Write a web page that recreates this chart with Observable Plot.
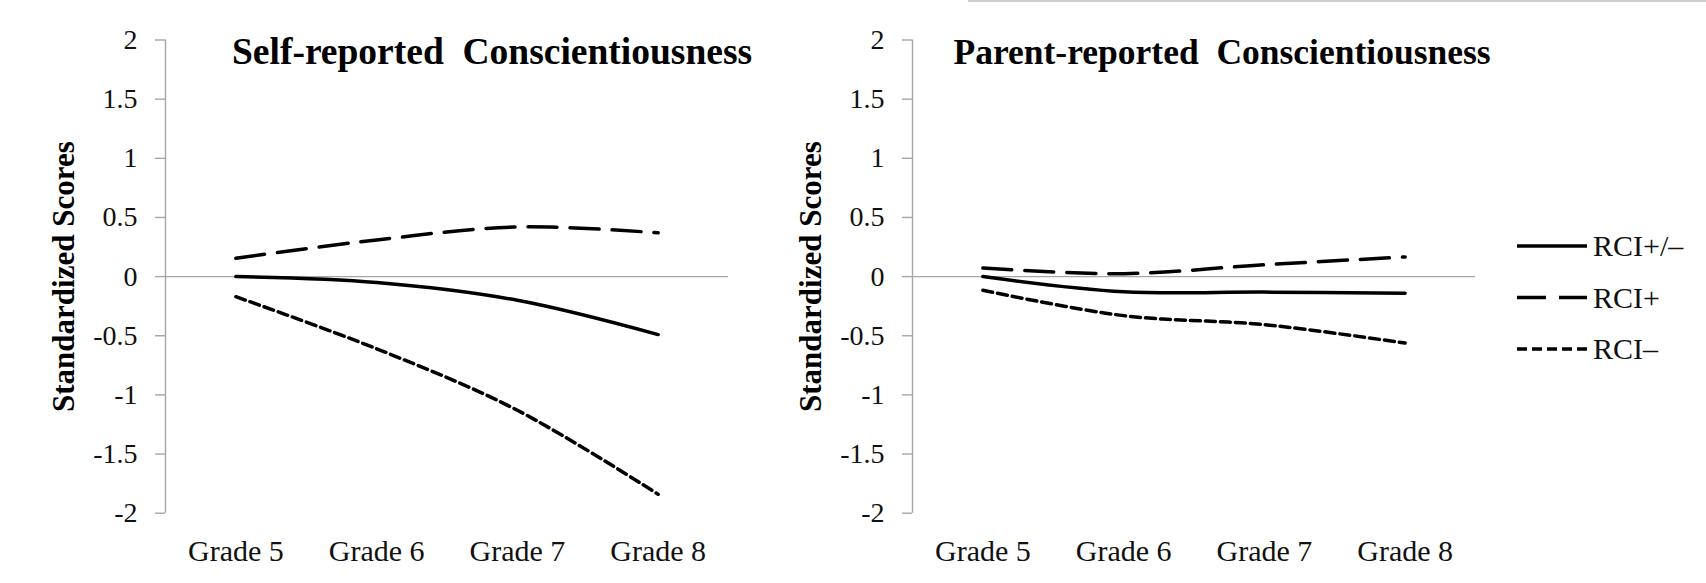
<!DOCTYPE html>
<html><head><meta charset="utf-8">
<script src="https://cdn.jsdelivr.net/npm/d3@7"></script>
<script src="https://cdn.jsdelivr.net/npm/@observablehq/plot@0.6"></script>
<style>
html,body{margin:0;padding:0;background:#fff;}
#wrap{position:relative;width:1706px;height:583px;overflow:hidden;font-family:"Liberation Serif","Times New Roman",serif;background:#fff;}
#wrap > svg, #wrap > div{position:absolute;top:0;}
#wrap svg, #wrap svg text{font-family:"Liberation Serif","Times New Roman",serif !important;}
#topline{left:968px;top:7px;width:738px;height:0;border-top:2px solid #cfcfcf;}
</style></head><body><div id="wrap"><div id="topline"></div></div>
<script>
// ---- data ----
const grades = ["Grade 5", "Grade 6", "Grade 7", "Grade 8"];
const seriesNames = ["RCI+/\u2013", "RCI+", "RCI\u2013"];
const yTicks = [2, 1.5, 1, 0.5, 0, -0.5, -1, -1.5, -2];
const panelTitles = ["Self-reported\u00a0\u00a0Conscientiousness", "Parent-reported\u00a0\u00a0Conscientiousness"];
const yLabel = "Standardized Scores";

const selfPM    = [0, -0.05, -0.20, -0.49];
const selfPlus  = [0.155, 0.31, 0.42, 0.37];
const selfMinus = [-0.17, -0.61, -1.13, -1.84];

const parentPM    = [0, -0.128, -0.131, -0.14];
const parentPlus  = [0.072, 0.025, 0.10, 0.166];
const parentMinus = [-0.116, -0.33, -0.406, -0.562];

// ---- styles ----
const dashes = [null, "29,13", "10,5"];
const FONT = '"Liberation Serif","Times New Roman",serif';

function rows(values) { return values.map((v, i) => ({i, v, grade: grades[i]})); }

function panel(title, series, titleDx, titleSize) {
  return Plot.plot({
    width: 760, height: 583,
    marginLeft: 165, marginRight: 32, marginTop: 39.5, marginBottom: 70.3,
    style: {fontFamily: FONT, background: "transparent", overflow: "visible"},
    x: {domain: [-0.5, grades.length - 0.5], axis: null},
    y: {domain: [-2, 2], axis: null},
    marks: [
      Plot.ruleY([0], {stroke: "#a6a6a6", strokeWidth: 1.4}),
      Plot.ruleX([-0.5], {stroke: "#a6a6a6", strokeWidth: 1.4}),
      Plot.axisY({ticks: yTicks, tickSize: 10, tickPadding: 18, tickFormat: d => String(d),
                  fontSize: 28, fontFamily: FONT, stroke: "#a6a6a6", strokeWidth: 1.4,
                  fill: "#111", label: null}),
      Plot.axisX({ticks: grades.map((g, i) => i), tickFormat: i => grades[i], tickSize: 0,
                  tickPadding: 26, fontSize: 30, fontFamily: FONT, fill: "#111", label: null}),
      ...series.map((s, k) => Plot.line(rows(s), {
        x: "i", y: "v", curve: "catmull-rom", stroke: "#000", strokeWidth: 3.5,
        strokeDasharray: dashes[k]
      })),
      Plot.text([title], {text: d => d, frameAnchor: "top-left", dx: titleDx, dy: 23.5,
                          lineAnchor: "bottom", textAnchor: "start", fontSize: titleSize,
                          fontFamily: FONT, fontWeight: "bold", fill: "#000"}),
      Plot.text([yLabel], {text: d => d, frameAnchor: "left", dx: -92, rotate: -90,
                           lineAnchor: "bottom", textAnchor: "middle", fontSize: 31,
                           fontFamily: FONT, fontWeight: "bold", fill: "#000"})
    ]
  });
}

const wrap = document.getElementById("wrap");
const left = panel(panelTitles[0], [selfPM, selfPlus, selfMinus], 66.5, 37.5);
left.style.left = "0px";
wrap.appendChild(left);
const right = panel(panelTitles[1], [parentPM, parentPlus, parentMinus], 41, 35.5);
right.style.left = "747px";
wrap.appendChild(right);

// ---- legend ----
const leg = d3.create("svg").attr("width", 206).attr("height", 583)
  .style("left", "1500px").attr("font-family", FONT);
const items = leg.selectAll("g").data(seriesNames).join("g")
  .attr("transform", (d, k) => `translate(0,${246 + 51.5 * k})`);
items.append("line").attr("x1", 17).attr("x2", 87).attr("y1", 0).attr("y2", 0)
  .attr("stroke", "#000").attr("stroke-width", 3.5)
  .attr("stroke-dasharray", (d, k) => dashes[k]);
items.append("text").attr("x", 93).attr("y", 10).attr("font-size", 30).attr("fill", "#111")
  .attr("font-family", FONT).text(d => d);
wrap.appendChild(leg.node());
</script>
</body></html>
